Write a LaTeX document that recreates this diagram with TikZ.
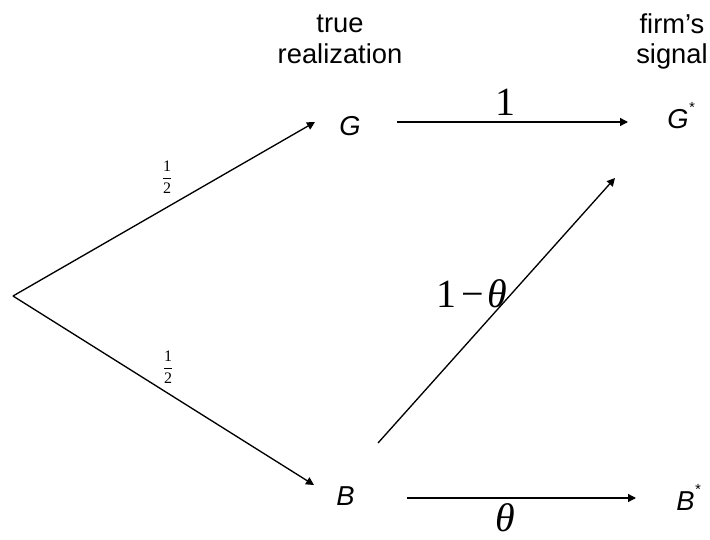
\documentclass[tikz,border=0pt]{standalone}
\usepackage{fontspec}
\setmainfont{Liberation Serif}
\newfontfamily\sansf{Liberation Sans}
\usetikzlibrary{arrows.meta}
\begin{document}
\begin{tikzpicture}[x=0.75pt,y=-0.75pt,
  conn/.style={line width=1pt,-{Triangle[length=6pt,width=6pt]}},
  hdr/.style={font=\sansf\fontsize{20.5}{24}\selectfont,inner sep=0pt,anchor=base},
  statelbl/.style={font=\sansf\itshape\fontsize{20.5}{24}\selectfont,inner sep=0pt,anchor=base west},
  prob/.style={font=\fontsize{30}{34}\selectfont,inner sep=0pt,anchor=base},
  half/.style={font=\fontsize{12}{14}\selectfont,inner sep=0pt}]
\useasboundingbox (0,0) rectangle (710,539);
% headers
\node[hdr] (h1) at (340,32) {true};
\node[hdr] (h2) at (340,63) {realization};
\node[hdr] (h3) at (672,33) {firm’s};
\node[hdr] (h4) at (672,63) {signal};
% states
\node[statelbl] (G) at (339,135) {G};
\node[statelbl] (Gs) at (667,128) {G\raisebox{0.55em}{\fontsize{11}{11}\selectfont *}};
\node[statelbl] (B) at (336,505) {B};
\node[statelbl] (Bs) at (676,510) {B\raisebox{0.55em}{\fontsize{11}{11}\selectfont *}};
% connector ends
\coordinate (R) at (13,296);
\coordinate (Gin) at (315,122);
\coordinate (Bin) at (314,485);
\coordinate (Gout) at (397,122);
\coordinate (Gsin) at (628,122);
\coordinate (Bout) at (407,498);
\coordinate (Bsin) at (636,498);
\coordinate (Bup) at (378,443);
\coordinate (Gsup) at (615,178);
% connectors
\draw[conn] (R) -- (Gin);
\draw[conn] (R) -- (Bin);
\draw[conn] (Gout) -- (Gsin);
\draw[conn] (Bout) -- (Bsin);
\draw[conn] (Bup) -- (Gsup);
% labels
\node[half] (p1) at (167,177) {$\displaystyle\frac{\hbox{1}}{\hbox{2}}$};
\node[half] (p2) at (168,367) {$\displaystyle\frac{\hbox{1}}{\hbox{2}}$};
\node[prob] (l1) at (505,115) {1};
\node[prob] (lt) at (505,531) {\textit{θ}};
\node[prob] (l1t) at (472,307) {1\hspace{0.12em}−\hspace{0.08em}\textit{θ}};
\end{tikzpicture}
\end{document}
